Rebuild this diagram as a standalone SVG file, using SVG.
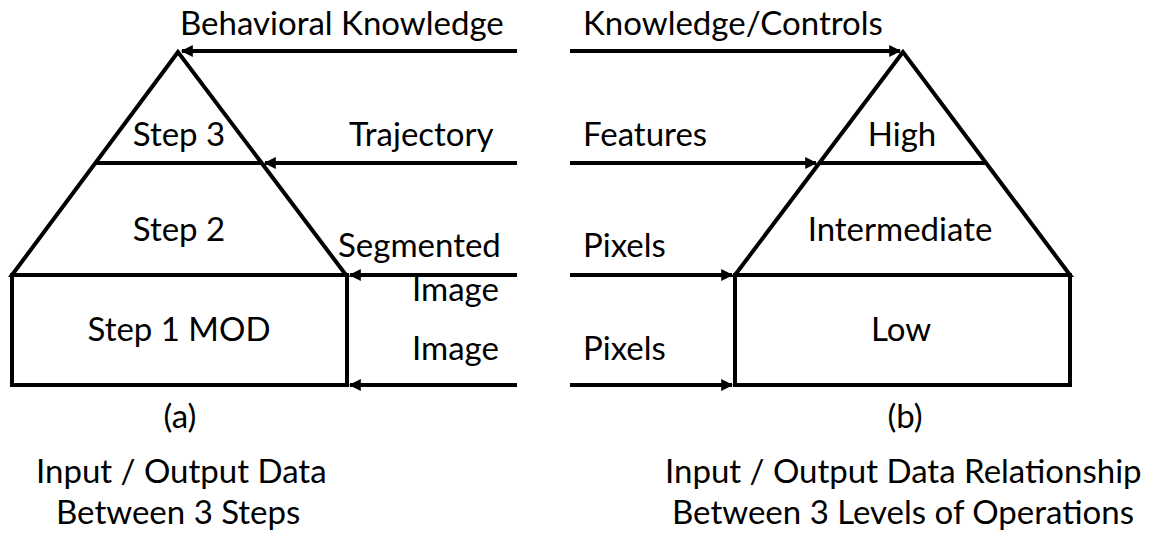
<svg xmlns="http://www.w3.org/2000/svg" width="1152" height="536" viewBox="0 0 1152 536">
<style>
.sh{fill:none;stroke:#000;stroke-width:4;stroke-linejoin:miter}
.ar{fill:none;stroke:#000;stroke-width:4}
text{font-family:Lato,"Open Sans","Liberation Sans",sans-serif;font-size:33px;fill:#000}
.m{text-anchor:middle}
</style>
<defs>
<marker id="ah" viewBox="0 0 10 10" refX="9" refY="5" markerWidth="3.2" markerHeight="3" orient="auto" markerUnits="strokeWidth">
<path d="M0,0 L10,5 L0,10 z" fill="#000"/>
</marker>
</defs>
<rect width="1152" height="536" fill="#fff"/>
<g id="left-pyramid">
<path class="sh" d="M178,52 L12,275 L346,275 Z"/>
<line class="sh" x1="95" y1="163" x2="262" y2="163"/>
<rect class="sh" x="12" y="275" width="335" height="110"/>
<text class="m" x="179" y="146">Step 3</text>
<text class="m" x="179" y="241">Step 2</text>
<text class="m" x="179" y="341">Step 1 MOD</text>
</g>
<g id="right-pyramid">
<path class="sh" d="M903,52 L735,275 L1070,275 Z"/>
<line class="sh" x1="819" y1="163" x2="986" y2="163"/>
<rect class="sh" x="735" y="275" width="335" height="110"/>
<text class="m" x="902" y="146">High</text>
<text class="m" x="900" y="241">Intermediate</text>
<text class="m" x="901" y="341">Low</text>
</g>
<g id="connectors">
<line class="ar" x1="517" y1="51" x2="182" y2="51" marker-end="url(#ah)"/>
<line class="ar" x1="517" y1="163" x2="265" y2="163" marker-end="url(#ah)"/>
<line class="ar" x1="517" y1="275" x2="350" y2="275" marker-end="url(#ah)"/>
<line class="ar" x1="517" y1="385" x2="350" y2="385" marker-end="url(#ah)"/>
<line class="ar" x1="570" y1="51" x2="900" y2="51" marker-end="url(#ah)"/>
<line class="ar" x1="570" y1="163" x2="816" y2="163" marker-end="url(#ah)"/>
<line class="ar" x1="570" y1="275" x2="732" y2="275" marker-end="url(#ah)"/>
<line class="ar" x1="570" y1="385" x2="732" y2="385" marker-end="url(#ah)"/>
</g>
<g id="labels">
<text x="180" y="35">Behavioral Knowledge</text>
<text x="583" y="35">Knowledge/Controls</text>
<text x="349" y="146">Trajectory</text>
<text x="583" y="146">Features</text>
<text x="338" y="257">Segmented</text>
<text x="412" y="301">Image</text>
<text x="412" y="360">Image</text>
<text x="583" y="257">Pixels</text>
<text x="583" y="360">Pixels</text>
<text class="m" x="180" y="428">(a)</text>
<text class="m" x="905" y="428">(b)</text>
<text x="36" y="483">Input / Output Data</text>
<text x="56" y="524">Between 3 Steps</text>
<text x="665" y="483">Input / Output Data Relationship</text>
<text x="672" y="524">Between 3 Levels of Operations</text>
</g>
</svg>
